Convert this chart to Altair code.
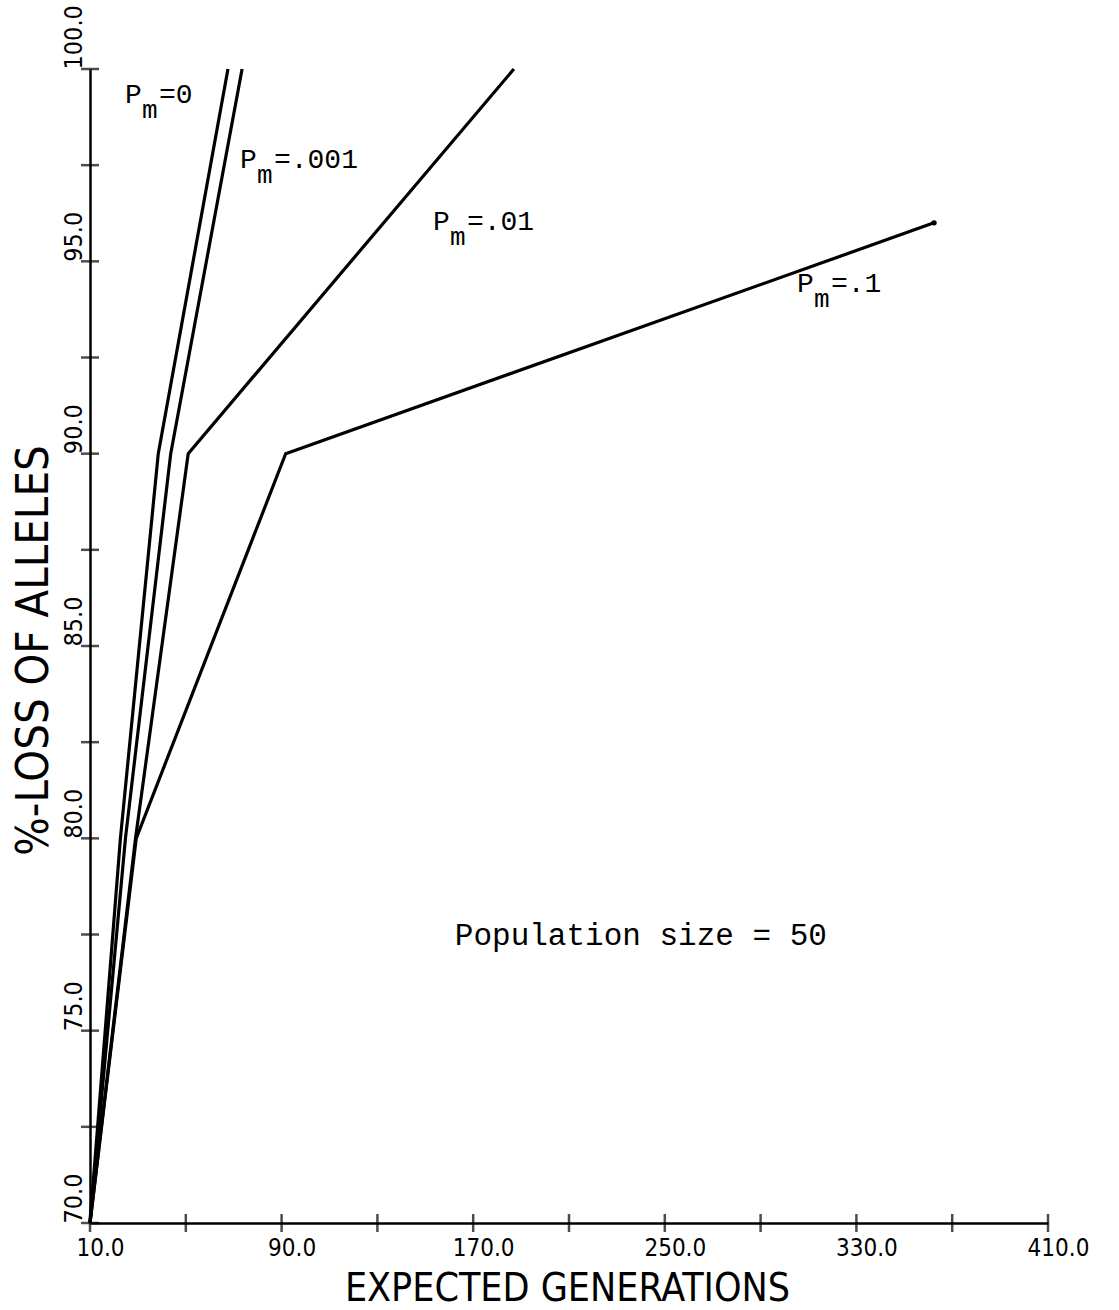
import altair as alt
import pandas as pd

# Expected generations until a given percentage of alleles is lost,
# for four mutation probabilities (population size 50).
series_names = ["P_m=0", "P_m=.001", "P_m=.01", "P_m=.1"]
loss_pct = [70.0, 80.0, 90.0, 100.0]
gen_pm0 = [10.0, 22.7, 38.5, 67.6]
gen_pm001 = [10.0, 24.8, 43.7, 73.5]
gen_pm01 = [10.0, 29.0, 51.0, 187.0]
gen_pm1 = [10.0, 29.3, 91.7, 362.4]
loss_pm1 = [70.0, 80.0, 90.0, 96.0]

# Axis ticks and labelled values
x_ticks = [10, 50, 90, 130, 170, 210, 250, 290, 330, 370, 410]
x_labelled = [10, 90, 170, 250, 330, 410]
y_ticks = [70.0, 72.5, 75.0, 77.5, 80.0, 82.5, 85.0, 87.5, 90.0, 92.5, 95.0, 97.5, 100.0]
y_labelled = [70, 75, 80, 85, 90, 95, 100]

# Curve annotations: "P" + subscript "m" + remainder
label_rest = ["=0", "=.001", "=.01", "=.1"]
label_x = [24.6, 72.6, 153.2, 305.2]
label_y = [99.12, 97.43, 95.81, 94.20]

note_text = ["Population size = 50"]
note_x = [240.0]
note_y = [77.45]

rows = []
for name, xs, ys in [
    (series_names[0], gen_pm0, loss_pct),
    (series_names[1], gen_pm001, loss_pct),
    (series_names[2], gen_pm01, loss_pct),
    (series_names[3], gen_pm1, loss_pm1),
]:
    for i, (gx, ly) in enumerate(zip(xs, ys)):
        rows.append({"series": name, "gen": gx, "loss": ly, "order": i})
lines_df = pd.DataFrame(rows)

end_df = pd.DataFrame({"gen": [gen_pm1[-1]], "loss": [loss_pm1[-1]]})
labels_df = pd.DataFrame({"gen": label_x, "loss": label_y, "rest": label_rest})
note_df = pd.DataFrame({"gen": note_x, "loss": note_y, "text": note_text})
xt_df = pd.DataFrame({"v": x_ticks})
yt_df = pd.DataFrame({"v": y_ticks})

AXIS_FONT = "DejaVu Sans Condensed, Liberation Sans Narrow, DejaVu Sans"
MONO_FONT = "Liberation Mono, DejaVu Sans Mono"

x_scale = alt.Scale(domain=[10, 410], nice=False, zero=False)
y_scale = alt.Scale(domain=[70, 100], nice=False, zero=False)

def lbl_expr(vals):
    arr = ",".join(str(v) for v in vals)
    return f"indexof([{arr}], datum.value) >= 0 ? format(datum.value, '.1f') : ''"

x_axis = alt.Axis(
    values=x_ticks, labelExpr=lbl_expr(x_labelled), ticks=False, tickSize=0,
    grid=False, domainColor="black", domainWidth=2.5,
    labelFont=AXIS_FONT, labelFontSize=24, labelColor="black",
    labelPadding=13, labelOffset=10, labelAlign="center", labelBaseline="top",
    title="EXPECTED GENERATIONS", titleFont=AXIS_FONT, titleFontSize=39,
    titleFontWeight="normal", titleColor="black",
    titleX=477, titleY=77, titleAlign="center", titleBaseline="alphabetic",
)
y_axis = alt.Axis(
    values=y_ticks, labelExpr=lbl_expr(y_labelled), ticks=False, tickSize=0,
    grid=False, domainColor="black", domainWidth=2.5,
    labelFont=AXIS_FONT, labelFontSize=25, labelColor="black",
    labelAngle=270, labelAlign="left", labelBaseline="alphabetic", labelPadding=9,
    title="%-LOSS OF ALLELES", titleFont=AXIS_FONT, titleFontSize=45,
    titleFontWeight="normal", titleColor="black",
    titleX=-43, titleY=581, titleAngle=270, titleAlign="center",
    titleBaseline="alphabetic",
)

lines = alt.Chart(lines_df).mark_line(color="black", strokeWidth=3.2).encode(
    x=alt.X("gen:Q", scale=x_scale, axis=x_axis),
    y=alt.Y("loss:Q", scale=y_scale, axis=y_axis),
    detail="series:N",
    order="order:Q",
)

end_dot = alt.Chart(end_df).mark_point(filled=True, color="black", size=30, opacity=1).encode(
    x=alt.X("gen:Q", scale=x_scale), y=alt.Y("loss:Q", scale=y_scale)
)

# Tick marks crossing the axis lines
x_tick_marks = alt.Chart(xt_df).mark_tick(
    orient="vertical", color="black", size=18, thickness=2.5
).encode(x=alt.X("v:Q", scale=x_scale), y=alt.value(1154))
y_tick_marks = alt.Chart(yt_df).mark_tick(
    orient="horizontal", color="black", size=18, thickness=2.5
).encode(y=alt.Y("v:Q", scale=y_scale), x=alt.value(0))

base_lbl = alt.Chart(labels_df).encode(
    x=alt.X("gen:Q", scale=x_scale), y=alt.Y("loss:Q", scale=y_scale)
)
p_text = base_lbl.mark_text(
    font=MONO_FONT, fontSize=28, align="left", baseline="alphabetic", color="black"
).encode(text=alt.value("P"))
m_text = base_lbl.mark_text(
    font=MONO_FONT, fontSize=26, align="left", baseline="alphabetic", color="black",
    dx=17, dy=15,
).encode(text=alt.value("m"))
rest_text = base_lbl.mark_text(
    font=MONO_FONT, fontSize=28, align="left", baseline="alphabetic", color="black",
    dx=34,
).encode(text="rest:N")

note = alt.Chart(note_df).mark_text(
    font=MONO_FONT, fontSize=31, align="center", baseline="middle", color="black"
).encode(
    x=alt.X("gen:Q", scale=x_scale), y=alt.Y("loss:Q", scale=y_scale), text="text:N"
)

chart = alt.layer(
    lines, end_dot, x_tick_marks, y_tick_marks, p_text, m_text, rest_text, note
).properties(
    width=958,
    height=1154,
    autosize=alt.AutoSizeParams(type="none"),
    padding={"left": 90, "top": 69, "right": 71, "bottom": 87},
    background="white",
).configure_view(stroke=None)

chart.save("out.html", embed_options={"renderer": "svg", "actions": False})
